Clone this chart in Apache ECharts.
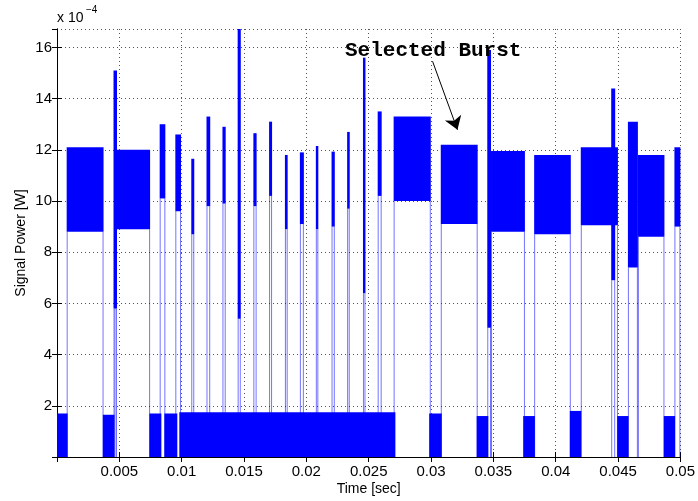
<!DOCTYPE html>
<html>
<head>
<meta charset="utf-8">
<script src="https://cdn.jsdelivr.net/npm/echarts@6/dist/echarts.min.js"></script>
<style>
  html, body { margin: 0; padding: 0; background: #fff; }
  #chart { width: 698px; height: 501px; }
</style>
</head>
<body>
<div id="chart"></div>
<script>
// values in units of 1e-4 W, time in seconds
// low-level stretches (signal sits between 0 and lowTop)
const lowStart = [0, 0.003678, 0.007411, 0.00861, 0.00981, 0.02985, 0.03366, 0.03739, 0.04113, 0.04493, 0.04867];
const lowEnd   = [0.000855, 0.004613, 0.008371, 0.00965, 0.02714, 0.03086, 0.03459, 0.03833, 0.04205, 0.04584, 0.04957];
const lowTop   = [1.7, 1.65, 1.7, 1.7, 1.75, 1.7, 1.6, 1.6, 1.8, 1.6, 1.6];

// high-level bursts (noise band between burstLow and burstTop)
const burstStart = [0.000776, 0.004533, 0.004613, 0.008235, 0.00949, 0.01077, 0.01199, 0.01327, 0.01449, 0.01575,
                    0.01701, 0.01828, 0.01948, 0.02076, 0.02202, 0.02327, 0.02454, 0.02572, 0.027, 0.03078,
                    0.03451, 0.03481, 0.03827, 0.04201, 0.04445, 0.04579, 0.04659, 0.04952];
const burstEnd   = [0.003734, 0.004813, 0.007467, 0.00869, 0.009946, 0.01101, 0.01229, 0.01353, 0.01474, 0.01601,
                    0.01725, 0.0185, 0.0198, 0.02096, 0.02228, 0.02348, 0.02474, 0.02604, 0.02998, 0.03374,
                    0.03481, 0.03753, 0.04121, 0.04499, 0.04477, 0.04659, 0.04872, 0.05];
const burstLow   = [8.8, 5.8, 8.9, 10.1, 9.6, 8.7, 9.8, 9.9, 5.4, 9.8,
                    10.2, 8.9, 9.1, 8.9, 9.0, 9.7, 6.4, 10.2, 10.0, 9.1,
                    5.05, 8.8, 8.7, 9.05, 6.9, 7.4, 8.6, 9.0];
const burstTop   = [12.1, 15.1, 12.0, 13.0, 12.6, 11.65, 13.3, 12.9, 16.72, 12.65,
                    13.1, 11.8, 11.9, 12.15, 11.93, 12.7, 15.6, 13.5, 13.3, 12.2,
                    15.9, 11.95, 11.8, 12.1, 14.4, 13.1, 11.8, 12.1];

const xTicks = [0, 0.05, 0.005];   // min, max, step
const yTicks = [0, 16.72, 2];

const arrowFrom = [0.03012, 15.46];
const arrowTo = [0.03212, 12.78];

const lowData = lowStart.map((s, i) => [s, lowEnd[i], 0, lowTop[i]]);
const burstData = burstStart.map((s, i) => [s, burstEnd[i], burstLow[i], burstTop[i]]);

const blue = '#0000ff';

function renderBand(params, api) {
    const p0 = api.coord([api.value(0), api.value(2)]);
    const p1 = api.coord([api.value(1), api.value(3)]);
    const cs = params.coordSys;
    const x = p0[0];
    const w = Math.max(p1[0] - p0[0], 1.5);
    const rect = echarts.graphic.clipRectByRect(
        { x: x, y: p1[1], width: w, height: p0[1] - p1[1] },
        { x: cs.x, y: cs.y, width: cs.width, height: cs.height }
    );
    const children = [];
    if (rect) {
        children.push({ type: 'rect', shape: rect, style: { fill: blue } });
    }
    // thin edge lines where the signal jumps up from zero
    if (api.value(2) > 0) {
        const base = api.coord([api.value(0), 0]);
        children.push({
            type: 'line',
            shape: { x1: x + 0.5, y1: base[1], x2: x + 0.5, y2: p0[1] },
            style: { stroke: blue, lineWidth: 1, opacity: 0.55 }
        });
        children.push({
            type: 'line',
            shape: { x1: x + w - 0.5, y1: base[1], x2: x + w - 0.5, y2: p0[1] },
            style: { stroke: blue, lineWidth: 1, opacity: 0.55 }
        });
    }
    return { type: 'group', children: children };
}

const chart = echarts.init(document.getElementById('chart'), null, { renderer: 'canvas' });

const labelFont = { color: '#000', fontSize: 15, fontFamily: 'Liberation Sans, Arial, sans-serif' };
const gridLine = { show: true, lineStyle: { color: '#555', type: [1, 3], width: 1 } };
const frameLine = { show: true, lineStyle: { color: '#000', width: 1 } };
const tickIn = { show: true, inside: true, length: 5, lineStyle: { color: '#000' } };

const option = {
    animation: false,
    backgroundColor: '#fff',
    grid: { left: 57, right: 15, top: 29, bottom: 44, containLabel: false },
    xAxis: [{
        type: 'value',
        min: xTicks[0], max: xTicks[1], interval: xTicks[2],
        position: 'bottom',
        axisLine: frameLine,
        axisTick: tickIn,
        splitLine: gridLine,
        axisLabel: Object.assign({
            margin: 7,
            formatter: v => (v === 0 ? '' : String(parseFloat(v.toFixed(4))))
        }, labelFont),
        name: 'Time [sec]',
        nameLocation: 'middle',
        nameGap: 25,
        nameMoveOverlap: false,
        nameTextStyle: { color: '#000', fontSize: 14, fontFamily: 'Liberation Sans, Arial, sans-serif' }
    }, {
        type: 'value',
        min: xTicks[0], max: xTicks[1], interval: xTicks[2],
        position: 'top',
        axisLine: frameLine,
        axisTick: tickIn,
        splitLine: { show: false },
        axisLabel: { show: false }
    }],
    yAxis: [{
        type: 'value',
        min: yTicks[0], max: yTicks[1], interval: yTicks[2],
        position: 'left',
        axisLine: frameLine,
        axisTick: tickIn,
        splitLine: gridLine,
        axisLabel: Object.assign({
            margin: 5,
            showMaxLabel: false,
            formatter: v => (v === 0 || Math.abs(v / 2 - Math.round(v / 2)) > 1e-6 ? '' : String(v))
        }, labelFont),
        name: 'Signal Power [W]',
        nameLocation: 'middle',
        nameGap: 29,
        nameMoveOverlap: false,
        nameTextStyle: { color: '#000', fontSize: 14, fontFamily: 'Liberation Sans, Arial, sans-serif' }
    }, {
        type: 'value',
        min: yTicks[0], max: yTicks[1], interval: yTicks[2],
        position: 'right',
        axisLine: frameLine,
        axisTick: tickIn,
        splitLine: { show: false },
        axisLabel: { show: false }
    }],
    graphic: [
        { type: 'text', left: 57, top: 11, style: { text: 'x 10', fill: '#000', fontSize: 14, fontFamily: 'Liberation Sans, Arial, sans-serif' } },
        { type: 'text', left: 86, top: 5, style: { text: '\u22124', fill: '#000', fontSize: 10, fontFamily: 'Liberation Sans, Arial, sans-serif' } },
        { type: 'text', left: 345, top: 40, z: 10, style: { text: 'Selected Burst', fill: '#000', fontSize: 21, fontWeight: 'bold', fontFamily: 'Liberation Mono, Courier New, monospace' } }
    ],
    series: [{
        type: 'custom',
        name: 'low',
        renderItem: renderBand,
        encode: { x: [0, 1], y: [2, 3] },
        data: lowData,
        silent: true
    }, {
        type: 'custom',
        name: 'bursts',
        renderItem: renderBand,
        encode: { x: [0, 1], y: [2, 3] },
        data: burstData,
        silent: true,
        markLine: {
            silent: true,
            symbol: ['none', 'arrow'],
            symbolSize: 13,
            label: { show: false },
            lineStyle: { color: '#000', width: 1, type: 'solid' },
            data: [[{ coord: arrowFrom }, { coord: arrowTo }]]
        }
    }]
};

chart.setOption(option);
</script>
</body>
</html>
